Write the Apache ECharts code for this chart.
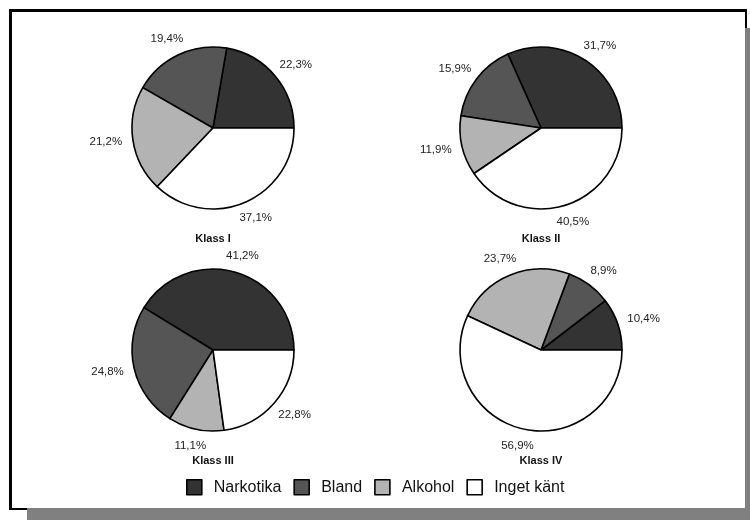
<!DOCTYPE html>
<html>
<head>
<meta charset="utf-8">
<script src="https://cdn.jsdelivr.net/npm/echarts@6/dist/echarts.min.js"></script>
<style>
html,body{margin:0;padding:0;background:#fff;}
#chart{width:750px;height:520px;}
</style>
</head>
<body>
<div id="chart"></div>
<script>
const classes = ['Klass I', 'Klass II', 'Klass III', 'Klass IV'];
const causes = ['Narkotika', 'Bland', 'Alkohol', 'Inget känt'];
const klass1 = [22.3, 19.4, 21.2, 37.1];
const klass2 = [31.7, 15.9, 11.9, 40.5];
const klass3 = [41.2, 24.8, 11.1, 22.8];
const klass4 = [10.4, 8.9, 23.7, 56.9];
const shares = [klass1, klass2, klass3, klass4];

const colors = ['#333333', '#555555', '#b3b3b3', '#ffffff'];
const centers = [[213, 128], [541, 128], [213, 350], [541, 350]];
const titleTops = [233, 233, 455, 455];
const R = 81;
const labelR = 92;

function fmt(v) { return v.toFixed(1).replace('.', ',') + '%'; }

function midAngles(vals) {
  const sum = vals.reduce((a, b) => a + b, 0);
  let acc = 0;
  return vals.map(v => { const m = (acc + v / 2) / sum * 2 * Math.PI; acc += v; return m; });
}

const chart = echarts.init(document.getElementById('chart'), null, {renderer: 'canvas'});

const series = shares.map((vals, si) => {
  const mids = midAngles(vals);
  const c = centers[si];
  return {
    type: 'pie',
    name: classes[si],
    center: c,
    radius: R,
    startAngle: 0,
    clockwise: false,
    animation: false,
    silent: true,
    itemStyle: {borderColor: '#000', borderWidth: 1.6},
    label: {
      show: true,
      position: 'outside',
      formatter: p => fmt(p.value),
      fontFamily: 'Liberation Sans, Arial, sans-serif',
      fontSize: 11.5,
      color: '#222'
    },
    labelLine: {show: false},
    labelLayout: function (params) {
      const a = mids[params.dataIndex];
      const w = params.labelRect.width, h = params.labelRect.height;
      const cs = Math.cos(a), sn = Math.sin(a);
      return {
        x: c[0] + labelR * cs + (w / 2) * cs,
        y: c[1] - labelR * sn - (h / 2) * sn,
        align: 'center',
        verticalAlign: 'middle'
      };
    },
    data: vals.map((v, i) => ({name: causes[i], value: v, itemStyle: {color: colors[i]}}))
  };
});

const option = {
  animation: false,
  backgroundColor: '#fff',
  color: colors,
  graphic: [
    {type: 'rect', z: -3, shape: {x: 9, y: 9, width: 738, height: 501}, style: {fill: '#000'}},
    {type: 'rect', z: -2, shape: {x: 27, y: 28, width: 760, height: 520}, style: {fill: '#808080'}},
    {type: 'rect', z: -1, shape: {x: 12, y: 12, width: 733, height: 496}, style: {fill: '#fff'}}
  ],
  title: classes.map((t, i) => ({
    text: t,
    left: centers[i][0],
    top: titleTops[i],
    textAlign: 'center',
    padding: 0,
    textStyle: {fontFamily: 'Liberation Sans, Arial, sans-serif', fontSize: 11, fontWeight: 'bold', color: '#111'}
  })),
  legend: {
    data: causes,
    left: 186,
    top: 479,
    padding: 0,
    orient: 'horizontal',
    itemWidth: 15,
    itemHeight: 15,
    itemGap: 12,
    icon: 'rect',
    selectedMode: false,
    itemStyle: {borderColor: '#000', borderWidth: 1.6},
    textStyle: {fontFamily: 'Liberation Sans, Arial, sans-serif', fontSize: 16, color: '#111', padding: [0, 0, 0, 7]}
  },
  series: series
};

chart.setOption(option);
</script>
</body>
</html>
